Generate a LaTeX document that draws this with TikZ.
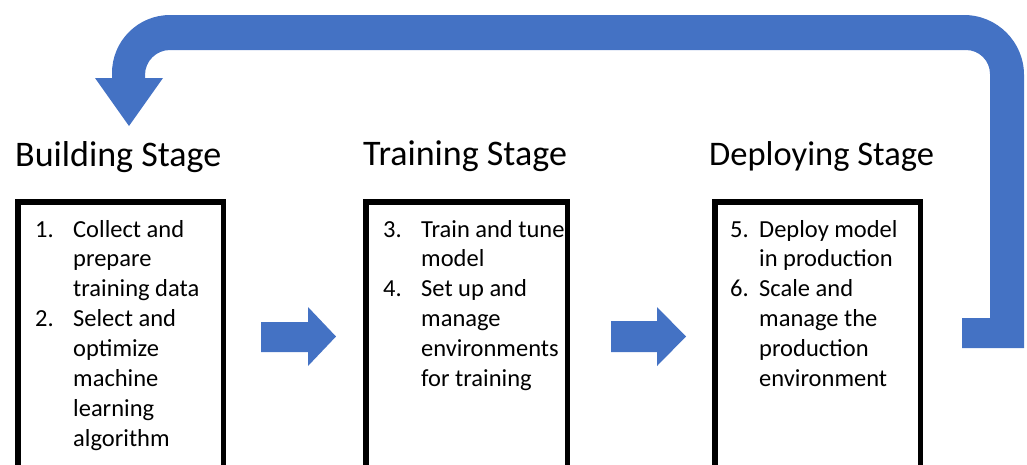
\documentclass[tikz,border=0pt]{standalone}
\usepackage{fontspec}
\setmainfont{Carlito}
\definecolor{flowblue}{HTML}{4472C4}
\begin{document}
\begin{tikzpicture}[x=1pt,y=-1pt,
  stagebox/.style={draw=black,line width=5.5pt,anchor=north west,inner sep=0pt,minimum height=320pt},
  stagetitle/.style={anchor=base west,inner sep=0pt,font=\fontsize{36}{44}\selectfont},
  steplist/.style={anchor=base west,inner sep=0pt,align=left,font=\fontsize{24.5}{29.9}\selectfont},
  flow/.style={fill=flowblue}]
\useasboundingbox (0,0) rectangle (1027,464);
\clip (0,0) rectangle (1027,464);

% feedback arrow from deployment back to building
\fill[flow] (962,348) -- (1024,348) -- (1024,75)
  arc[start angle=0,end angle=90,radius=60pt] -- (170,15)
  arc[start angle=90,end angle=180,radius=58pt] -- (112,78)
  -- (95,78) -- (129,126) -- (163,78) -- (145,78) -- (145,75)
  arc[start angle=180,end angle=90,radius=25pt] -- (966,50)
  arc[start angle=90,end angle=0,radius=24pt] -- (990,318)
  -- (962,318) -- cycle;

% stage titles
\node[stagetitle] (t1) at (15,166) {Building Stage};
\node[stagetitle] (t2) at (363,165) {Training Stage};
\node[stagetitle,font=\fontsize{34.5}{42}\selectfont] (t3) at (709,165) {Deploying Stage};

% stage boxes (anchored at their outer corner)
\node[stagebox,minimum width=205.5pt] (b1) at (15,199) {};
\node[stagebox,minimum width=201.5pt] (b2) at (363,199) {};
\node[stagebox,minimum width=205.5pt] (b3) at (712,199) {};

% step lists
\node[steplist] (s1) at (35,237) {\begin{tabular}[t]{@{}l@{}l@{}}
\makebox[38pt][l]{1.} & Collect and\\
 & prepare\\
 & training data\\
\makebox[38pt][l]{2.} & Select and\\
 & optimize\\
 & machine\\
 & learning\\
 & algorithm
\end{tabular}};
\node[steplist] (s2) at (383,237) {\begin{tabular}[t]{@{}l@{}l@{}}
\makebox[38pt][l]{3.} & Train and tune\\
 & model\\
\makebox[38pt][l]{4.} & Set up and\\
 & manage\\
 & environments\\
 & for training
\end{tabular}};
\node[steplist] (s3) at (730,237) {\begin{tabular}[t]{@{}l@{}l@{}}
\makebox[29pt][l]{5.} & Deploy model\\
 & in production\\
\makebox[29pt][l]{6.} & Scale and\\
 & manage the\\
 & production\\
 & environment
\end{tabular}};

% forward arrows between stages
\fill[flow] (261,322) -- (308,322) -- (308,307) -- (336,336.5)
  -- (308,366) -- (308,352) -- (261,352) -- cycle;
\fill[flow] (611,321) -- (657,321) -- (657,307) -- (686,336.5)
  -- (657,366) -- (657,352) -- (611,352) -- cycle;
\end{tikzpicture}
\end{document}
